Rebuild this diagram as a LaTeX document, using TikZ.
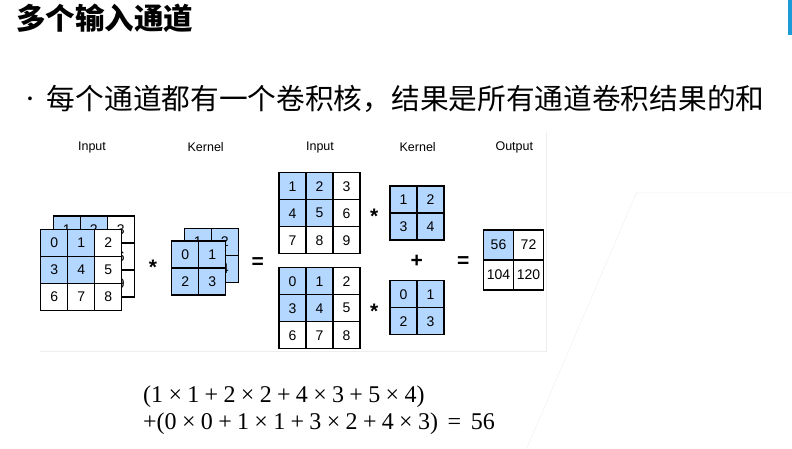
\documentclass[tikz,border=0pt]{standalone}
\usepackage{fontspec}
\setmainfont{Liberation Serif}
\setsansfont{Liberation Sans}
\newfontfamily\cjk{Noto Sans CJK SC}
\definecolor{cellblue}{RGB}{179,215,255}
\definecolor{barblue}{RGB}{27,155,216}
\definecolor{paneline}{RGB}{238,238,238}
% grid of cells: name, left, top, columns, cell size, value/fill list
\newcommand{\cellgrid}[6]{%
  \foreach \val/\col [count=\k from 0] in {#6} {%
    \pgfmathtruncatemacro{\gr}{div(\k,#4)}%
    \pgfmathtruncatemacro{\gc}{mod(\k,#4)}%
    \node[cell, minimum size=#5pt, fill=\col] (#1-\gr-\gc) at ({#2+(\gc+0.5)*#5},{#3+(\gr+0.5)*#5}) {\val};
  }%
}
\newcommand{\eqop}[1]{\hspace{0.222em}#1\hspace{0.222em}}
\newcommand{\eqrel}[1]{\hspace{0.4em}#1\hspace{0.4em}}
\begin{document}
\begin{tikzpicture}[x=1pt,y=-1pt,
    cell/.style = {draw,line width=1.1pt,inner sep=0,outer sep=0,font=\sffamily\fontsize{14}{16}\selectfont},
    lbl/.style = {inner sep=0,font=\sffamily\fontsize{12.5}{14}\selectfont},
    op/.style = {anchor=base,inner sep=0,font=\sffamily\bfseries\fontsize{21}{23}\selectfont},
    eqn/.style = {anchor=base west,inner sep=0,font=\fontsize{24}{28}\selectfont}]
    \useasboundingbox (0,0) rectangle (792,449);

    \fill[barblue] (788.3,0) rectangle (792,35);
    \draw[paneline] (40,350.7) -- (545.7,350.7) -- (545.7,131.7);
    \draw[paneline] (792,192.3) -- (636.7,192.3) -- (526.5,449);

    \node[anchor=west,inner sep=0,font=\cjk\bfseries\fontsize{29.5}{32}\selectfont] (title) at (16,18.5) {多个输入通道};
    \node[inner sep=0,font=\sffamily\fontsize{14}{16}\selectfont] (dot) at (30,100) {•};
    \node[anchor=west,inner sep=0,font=\cjk\fontsize{28.7}{32}\selectfont] (point) at (46.7,98.5) {每个通道都有一个卷积核，结果是所有通道卷积结果的和};

    \node[lbl] (lblin) at (92,147) {Input};
    \node[lbl] (lblk) at (205.7,147) {Kernel};
    \node[lbl] (lblinb) at (320,147) {Input};
    \node[lbl] (lblkb) at (417.7,147) {Kernel};
    \node[lbl] (lblout) at (514.3,147) {Output};

    \cellgrid{inB}{53.3}{216}{3}{27}{1/cellblue,2/cellblue,3/white,4/cellblue,5/cellblue,6/white,7/white,8/white,9/white}
    \cellgrid{inA}{40.7}{229.3}{3}{27}{0/cellblue,1/cellblue,2/white,3/cellblue,4/cellblue,5/white,6/white,7/white,8/white}
    \cellgrid{kB}{184.3}{228.3}{2}{27}{1/cellblue,2/cellblue,3/cellblue,4/cellblue}
    \cellgrid{kA}{171.7}{241}{2}{27}{0/cellblue,1/cellblue,2/cellblue,3/cellblue}

    \cellgrid{topin}{279}{172.7}{3}{27}{1/cellblue,2/cellblue,3/white,4/cellblue,5/cellblue,6/white,7/white,8/white,9/white}
    \cellgrid{botin}{279}{267.7}{3}{27}{0/cellblue,1/cellblue,2/white,3/cellblue,4/cellblue,5/white,6/white,7/white,8/white}
    \cellgrid{topk}{390}{186}{2}{27}{1/cellblue,2/cellblue,3/cellblue,4/cellblue}
    \cellgrid{botk}{390}{280.7}{2}{27}{0/cellblue,1/cellblue,2/cellblue,3/cellblue}
    \cellgrid{out}{483.5}{230}{2}{30}{56/cellblue,72/white,104/white,120/white}

    \node[op] (star) at (153,274) {*};
    \node[op] (eqa) at (257.7,268) {=};
    \node[op] (startop) at (374.3,223.5) {*};
    \node[op] (starbot) at (374.3,318.5) {*};
    \node[op] (plus) at (416.7,267) {+};
    \node[op] (eqb) at (463.3,267) {=};

    \node[eqn] (suma) at (143,402) {(1\eqop{×}1\eqop{+}2\eqop{×}2\eqop{+}4\eqop{×}3\eqop{+}5\eqop{×}4)};
    \node[eqn] (sumb) at (143,429) {+(0\eqop{×}0\eqop{+}1\eqop{×}1\eqop{+}3\eqop{×}2\eqop{+}4\eqop{×}3)\eqrel{=}56};
\end{tikzpicture}
\end{document}
